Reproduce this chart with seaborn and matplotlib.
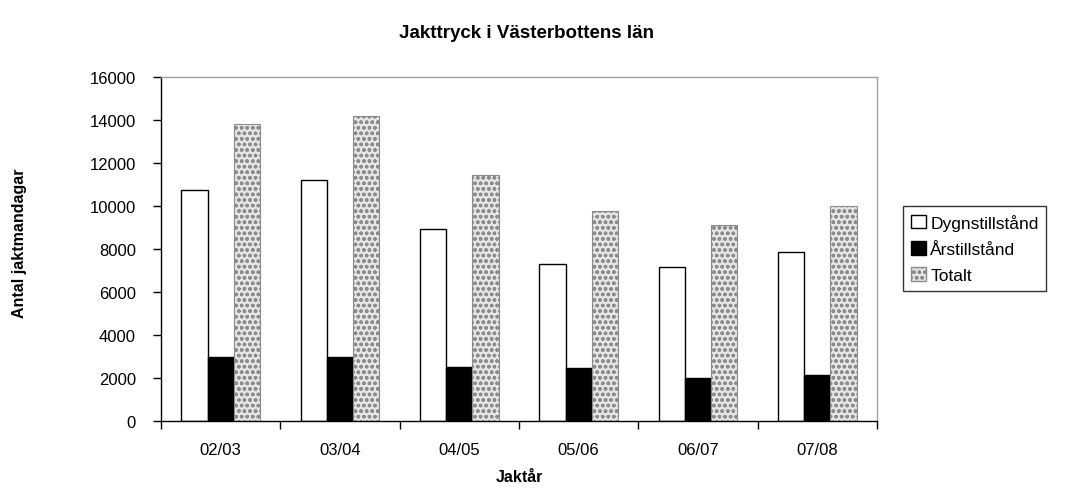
import pandas as pd
import numpy as np
import matplotlib
matplotlib.use("Agg")
import matplotlib.pyplot as plt
import seaborn as sns

sns.set_style("white")
plt.rcParams['font.family'] = ['Liberation Sans', 'DejaVu Sans']
plt.rcParams['hatch.linewidth'] = 1.0
for k in ["text.color", "axes.labelcolor", "xtick.color", "ytick.color"]:
    plt.rcParams[k] = "black"

# data
seasons = ["02/03", "03/04", "04/05", "05/06", "06/07", "07/08"]
dygn = [10750, 11200, 8950, 7300, 7150, 7850]
ars = [3000, 3000, 2500, 2450, 2000, 2150]
totalt = [13800, 14200, 11450, 9750, 9100, 10000]
series = ["Dygnstillstånd", "Årstillstånd", "Totalt"]

df = pd.DataFrame({
    "Jaktår": seasons * 3,
    "Serie": [series[0]] * 6 + [series[1]] * 6 + [series[2]] * 6,
    "Antal": dygn + ars + totalt,
})

fig = plt.figure(figsize=(10.83, 4.89), dpi=100)
ax = fig.add_axes([0.1487, 0.137, 0.661, 0.7035])

sns.barplot(data=df, x="Jaktår", y="Antal", hue="Serie", order=seasons,
            hue_order=series, palette=["white", "black", "#e6e6e6"],
            width=0.66, edgecolor="black", linewidth=1, ax=ax)

# dotted fill for Totalt
for cont, lab in zip(ax.containers, series):
    if lab == "Totalt":
        for p in cont:
            p.set_hatch("ooo")
            p.set_edgecolor("#8c8c8c")
            p.set_linewidth(0.8)

ax.set_ylim(0, 16000)
ax.set_xlim(-0.5, 5.5)
ax.set_yticks(np.arange(0, 16001, 2000))
ax.tick_params(axis="y", labelsize=12, length=6, width=1,
               direction="out", left=True, pad=12)
ax.set_xticks(np.arange(-0.5, 6, 1), minor=True)
ax.tick_params(axis="x", which="major", length=0, labelsize=12, pad=15)
ax.tick_params(axis="x", which="minor", length=6, width=1,
               direction="out", bottom=True)

for s in ["left", "bottom"]:
    ax.spines[s].set_color("black")
    ax.spines[s].set_linewidth(1)
for s in ["top", "right"]:
    ax.spines[s].set_color("#a0a0a0")
    ax.spines[s].set_linewidth(1)

ax.set_xlabel("Jaktår", fontsize=11.5, fontweight="bold", labelpad=9)
ax.set_ylabel("")
fig.text(0.018, 0.503, "Antal jaktmandagar", rotation=90, fontsize=11.5,
         fontweight="bold", ha="center", va="center")
fig.suptitle("Jakttryck i Västerbottens län", x=0.486, y=0.948,
             fontsize=13.5, fontweight="bold")

leg = ax.legend(loc="center left", bbox_to_anchor=(0.826, 0.49),
                bbox_transform=fig.transFigure, frameon=True, fontsize=12.5,
                handlelength=0.85, handleheight=0.85, handletextpad=0.25,
                borderpad=0.45, labelspacing=0.6, fancybox=False)
leg.get_frame().set_edgecolor("black")
leg.get_frame().set_linewidth(1)
h = leg.legend_handles[2]
h.set_hatch("ooo")
h.set_edgecolor("#8c8c8c")

fig.savefig("out.png", dpi=100)
